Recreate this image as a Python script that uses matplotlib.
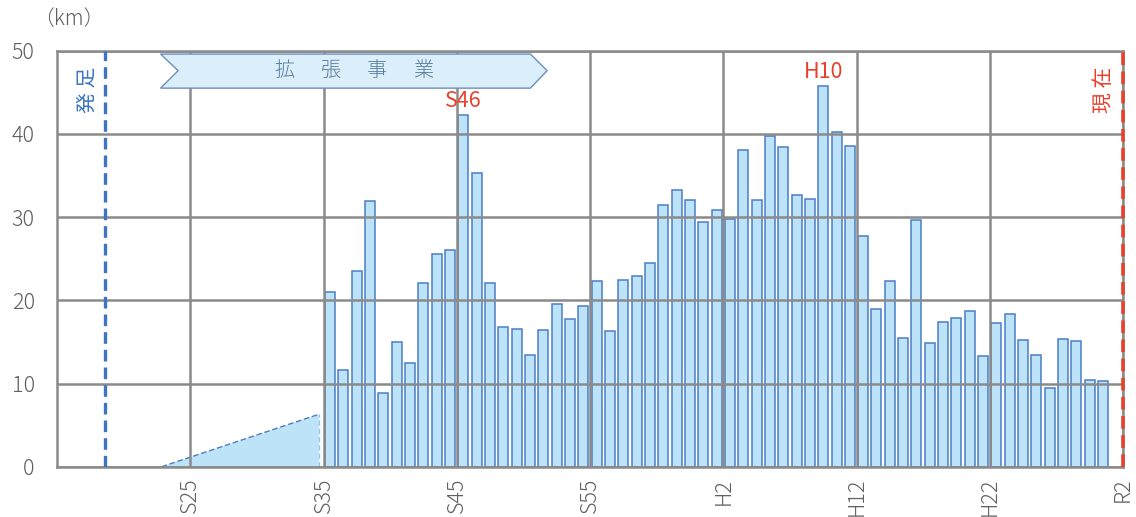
import matplotlib.pyplot as plt
from matplotlib.patches import Polygon

plt.rcParams['font.family'] = ['Noto Sans CJK JP', 'DejaVu Sans']
plt.rcParams['font.weight'] = 'light'

# bar data: western years 1961 (S36) .. 2019 (R1), km per year
start_year = 1961
showa = [21.0, 11.6, 23.5, 31.9, 8.8, 15.0, 12.5, 22.1, 25.6, 26.0,
         42.3, 35.3, 22.1, 16.8, 16.6, 13.4, 16.4, 19.5, 17.7, 19.3,
         22.3, 16.3, 22.5, 22.9, 24.5, 31.5, 33.2, 32.1]
heisei = [29.4, 30.8, 29.8, 38.1, 32.0, 39.8, 38.4, 32.7, 32.2, 45.8,
          40.2, 38.6, 27.7, 19.0, 22.3, 15.5, 29.6, 14.9, 17.4, 17.9,
          18.7, 13.3, 17.3, 18.3, 15.2, 13.4, 9.5, 15.4, 15.1, 10.4]
reiwa = [10.3]
values = showa + heisei + reiwa

tick_years = [1950, 1960, 1970, 1980, 1990, 2000, 2010, 2020]
tick_labels = ['S25', 'S35', 'S45', 'S55', 'H2', 'H12', 'H22', 'R2']

# marked peaks: (year, label)
peaks = [(1971, 'S46'), (1998, 'H10')]

# pre-expansion triangle (x in years from 1940, height km)
tri_x = [7.85, 19.65]
tri_h = 6.3

origin = 1940
grid_c = '#8a8a8a'
text_c = '#606060'
blue = '#4a7ec6'
red = '#e8402c'

fig = plt.figure(figsize=(11.36, 5.17), dpi=100)
ax = fig.add_axes([57 / 1136, 1 - 466.7 / 517, (1123 - 57) / 1136, (466.7 - 50.7) / 517])

xs = [start_year + i - origin - 0.5 for i in range(len(values))]
ax.bar(xs, values, width=0.75, color='#bde3f8', edgecolor=blue, linewidth=1.1, zorder=2)

# triangle
ax.add_patch(Polygon([(tri_x[0], 0), (tri_x[1], tri_h), (tri_x[1], 0)],
                     closed=True, facecolor='#bde3f8', edgecolor='none', zorder=2))
ax.plot(tri_x, [0, tri_h], color=blue, lw=1.0, ls=(0, (4, 2)), zorder=2)
ax.plot([tri_x[1], tri_x[1]], [0, tri_h], color='#9cc3e6', lw=1.0, ls=(0, (4, 2)), zorder=2)
ax.plot(tri_x, [0, 0], color='#9cc3e6', lw=1.0, ls=(0, (4, 2)), zorder=2)

ax.set_xlim(0, 80)
ax.set_ylim(0, 50)
ax.set_xticks([y - origin for y in tick_years])
ax.set_xticklabels(tick_labels, rotation=90, fontsize=15.5, color=text_c, va='top')
ax.set_yticks(range(0, 51, 10))
ax.tick_params(axis='y', length=0, pad=16, labelsize=15.5, labelcolor=text_c)
ax.tick_params(axis='x', length=0, pad=8)
ax.grid(True, color=grid_c, lw=1.8, zorder=3)
ax.set_axisbelow(False)
for s in ax.spines.values():
    s.set_color(grid_c)
    s.set_linewidth(1.8)

# start / present lines
ax.axvline(3.6, color='#3e74c2', lw=2.4, ls=(0, (3.5, 1.8)), zorder=4)
ax.text(2.3, 45.3, '発 足', rotation=90, color='#3e74c2', fontsize=15,
        fontweight='normal', ha='center', va='center')
ax.axvline(80, color=red, lw=2.6, ls=(0, (3.5, 1.8)), zorder=4, clip_on=False)
ax.text(78.6, 45.3, '現 在', rotation=90, color=red, fontsize=15,
        fontweight='normal', ha='center', va='center')

# peak labels
for yr, lab in peaks:
    v = values[yr - start_year]
    ax.text(yr - origin - 0.5, v + 0.3, lab, color=red, fontsize=15.5,
            fontweight='normal', ha='center', va='bottom', zorder=5)

# expansion banner
l, n, r, t = 7.77, 9.09, 35.53, 36.78
top, mid, bot = 49.6, 47.6, 45.5
ax.add_patch(Polygon([(l, top), (r, top), (t, mid), (r, bot), (l, bot), (n, mid)],
                     closed=True, facecolor='#daeffa', edgecolor='#6d8fbe', lw=1.0, zorder=5))
banner = '拡張事業'
cx = (l + t) / 2
for i, ch in enumerate(banner):
    ax.text(cx + (i - 1.5) * 3.45, mid, ch, color='#5b7b9f', fontsize=14.5,
            ha='center', va='center', zorder=6)

fig.text(33 / 1136, 1 - 19 / 517, '（km）', color=text_c, fontsize=15, ha='left', va='center')

fig.savefig('out.png', dpi=100)
